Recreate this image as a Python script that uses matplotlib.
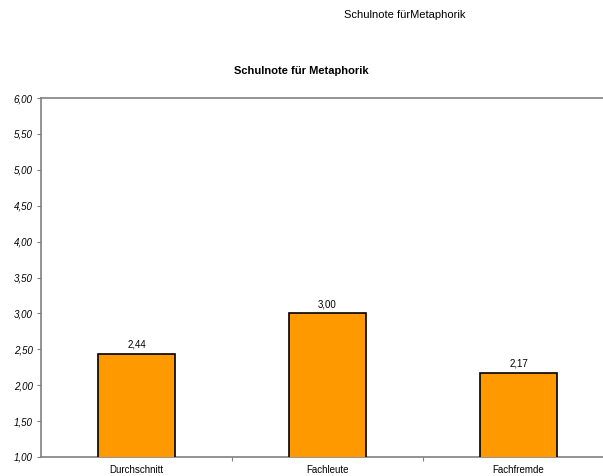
import matplotlib.pyplot as plt
from matplotlib.ticker import FuncFormatter, FixedLocator
import numpy as np

plt.rcParams['font.family'] = ['Liberation Sans', 'DejaVu Sans']

categories = ["Durchschnitt", "Fachleute", "Fachfremde"]
values = [2.44, 3.00, 2.17]
y_ticks = [1.0, 1.5, 2.0, 2.5, 3.0, 3.5, 4.0, 4.5, 5.0, 5.5, 6.0]

fig = plt.figure(figsize=(6.03, 4.76), dpi=100)
ax = fig.add_axes([41 / 603, 1 - 457 / 476, 562 / 603, 359 / 476])

x = np.arange(len(categories))
ax.bar(x, values, width=0.40, color="#ff9900",
       edgecolor="black", linewidth=1.2, zorder=3)

for xi, v in zip(x, values):
    ax.text(xi, v + 0.06, f"{v:.2f}".replace(".", ","), ha="center", va="bottom",
            fontsize=7)

ax.set_ylim(1.0, 6.0)
# plot area runs past the right edge of the canvas
ax.set_xlim(-0.5, 2.5 - 11 / 191)
ax.set_yticks(y_ticks)
ax.yaxis.set_major_formatter(FuncFormatter(lambda v, _: f"{v:.2f}".replace(".", ",")))
for lbl in ax.get_yticklabels():
    lbl.set_fontstyle("italic")
ax.tick_params(axis="y", labelsize=7, length=3, width=0.8, color="#808080", pad=3)

ax.xaxis.set_major_locator(FixedLocator([0.5, 1.5]))
ax.xaxis.set_major_formatter(FuncFormatter(lambda v, _: ""))
ax.xaxis.set_minor_locator(FixedLocator(x))
ax.set_xticklabels(categories, minor=True)
ax.tick_params(axis="x", which="major", length=3, width=0.8, color="#808080")
ax.tick_params(axis="x", which="minor", length=0, labelsize=7, pad=6)

for side in ["left", "bottom", "top"]:
    ax.spines[side].set_color("#808080")
    ax.spines[side].set_linewidth(1.2)
ax.spines["right"].set_visible(False)

fig.text(301 / 603, 1 - 71 / 476, "Schulnote für Metaphorik", ha="center",
         va="center", fontsize=8, fontweight="bold")
fig.text(405 / 603, 1 - 15 / 476, "Schulnote fürMetaphorik", ha="center",
         va="center", fontsize=8)

fig.savefig("out.png", dpi=100)
